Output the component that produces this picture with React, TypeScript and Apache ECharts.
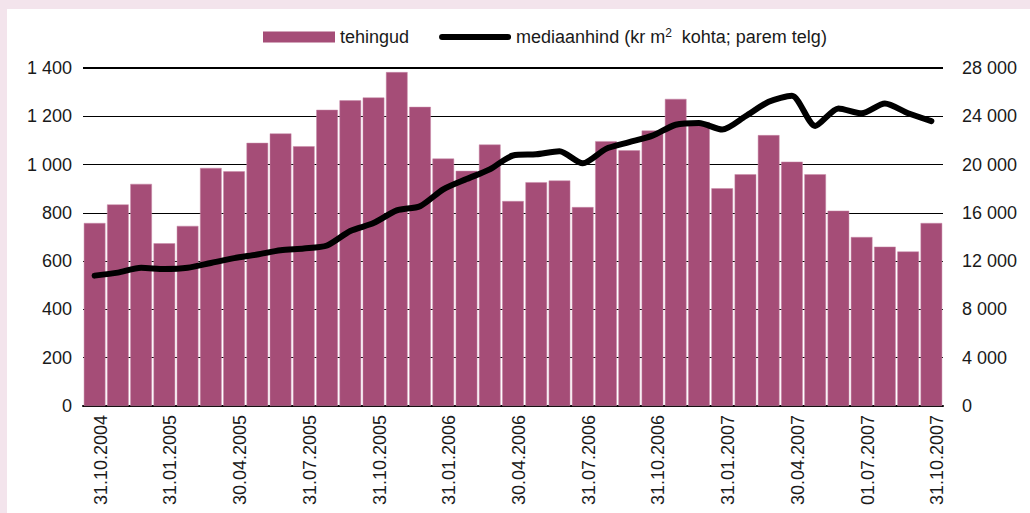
import React, { useEffect, useRef } from "react";
import * as echarts from "echarts";

const categories = [
  "31.10.2004", "30.11.2004", "31.12.2004", "31.01.2005", "28.02.2005", "31.03.2005",
  "30.04.2005", "31.05.2005", "30.06.2005", "31.07.2005", "31.08.2005", "30.09.2005",
  "31.10.2005", "30.11.2005", "31.12.2005", "31.01.2006", "28.02.2006", "31.03.2006",
  "30.04.2006", "31.05.2006", "30.06.2006", "31.07.2006", "31.08.2006", "30.09.2006",
  "31.10.2006", "30.11.2006", "31.12.2006", "31.01.2007", "28.02.2007", "31.03.2007",
  "30.04.2007", "31.05.2007", "30.06.2007", "01.07.2007", "31.08.2007", "30.09.2007",
  "31.10.2007",
];

const tehingud = [
  758, 835, 920, 674, 746, 986, 972, 1090, 1129, 1076, 1227, 1266,
  1278, 1383, 1239, 1025, 974, 1083, 849, 927, 934, 824, 1097, 1059,
  1141, 1272, 1176, 902, 960, 1122, 1012, 960, 809, 700, 660, 640,
  758,
];

const mediaanhind = [
  10800, 11050, 11450, 11350, 11450, 11850, 12250, 12550, 12900, 13050, 13300, 14500,
  15150, 16200, 16550, 17950, 18800, 19600, 20750, 20850, 21100, 20100, 21300, 21850,
  22400, 23300, 23450, 22900, 24000, 25200, 25700, 23200, 24650, 24250, 25050, 24250,
  23600,
];

const leftTicks = { min: 0, max: 1400, interval: 200 };
const rightTicks = { min: 0, max: 28000, interval: 4000 };

const FONT = "'Liberation Sans', Arial, sans-serif";
const fmt = (v: number) => String(v).replace(/\B(?=(\d{3})+(?!\d))/g, " ");

export default function App() {
  const ref = useRef<HTMLDivElement>(null);

  useEffect(() => {
    document.body.style.margin = "0";
    document.body.style.background = "#f3e4ec";
    const chart = echarts.init(ref.current!, undefined, { renderer: "svg" });
    chart.setOption({
      animation: false,
      backgroundColor: "#ffffff",
      textStyle: { fontFamily: FONT },
      legend: {
        left: 251,
        top: 13,
        itemWidth: 72,
        itemHeight: 11,
        itemGap: 30,
        textStyle: {
          fontFamily: FONT,
          fontSize: 18,
          color: "#1a1a1a",
          rich: {
            sup: { fontSize: 12, verticalAlign: "top", padding: [0, 0, 8, 0], fontFamily: FONT, color: "#1a1a1a" },
          },
        },
        formatter: (name: string) =>
          name === "mediaanhind" ? "mediaanhind (kr m{sup|2}  kohta; parem telg)" : name,
        data: [
          { name: "tehingud", icon: "rect", itemStyle: { color: "#a54d77", borderWidth: 0 } },
          {
            name: "mediaanhind",
            icon: "path://M3,0 L69,0 A3,3 0 0 1 69,6 L3,6 A3,3 0 0 1 3,0 Z",
            itemStyle: { color: "#000" },
          },
        ],
      },
      grid: { left: 76, right: 87, top: 59, bottom: 107, containLabel: false },
      xAxis: {
        type: "category",
        data: categories,
        axisLine: { show: true, lineStyle: { color: "#000", width: 2 } },
        axisTick: { show: false },
        axisLabel: {
          interval: 2,
          rotate: 90,
          margin: 9,
          verticalAlign: "top",
          lineHeight: 12,
          fontFamily: FONT,
          fontSize: 18,
          color: "#1a1a1a",
        },
      },
      yAxis: [
        {
          type: "value",
          ...leftTicks,
          axisLine: { show: false },
          axisTick: { show: false },
          axisLabel: { margin: 11, fontFamily: FONT, fontSize: 18, color: "#1a1a1a", formatter: fmt },
          splitLine: { show: true, lineStyle: { color: "#000", width: 1 } },
        },
        {
          type: "value",
          ...rightTicks,
          position: "right",
          axisLine: { show: false },
          axisTick: { show: false },
          axisLabel: { margin: 19, fontFamily: FONT, fontSize: 18, color: "#1a1a1a", formatter: fmt },
          splitLine: { show: false },
        },
      ],
      series: [
        {
          name: "tehingud",
          type: "bar",
          data: tehingud,
          barCategoryGap: "7%",
          itemStyle: { color: "#a54d77", borderColor: "#c98aa8", borderWidth: 0.5 },
          markLine: {
            silent: true,
            symbol: "none",
            label: { show: false },
            lineStyle: { color: "#000", width: 2, type: "solid" },
            data: [{ yAxis: 1400 }],
          },
        },
        {
          name: "mediaanhind",
          type: "line",
          yAxisIndex: 1,
          data: mediaanhind,
          smooth: 0.25,
          symbol: "none",
          showSymbol: false,
          itemStyle: { color: "#000" },
          lineStyle: { color: "#000", width: 6, cap: "round", join: "round" },
        },
      ],
    });
    return () => chart.dispose();
  }, []);

  return (
    <div
      ref={ref}
      style={{ position: "absolute", left: 7, top: 9, width: 1023, height: 504, background: "#fff" }}
    />
  );
}
